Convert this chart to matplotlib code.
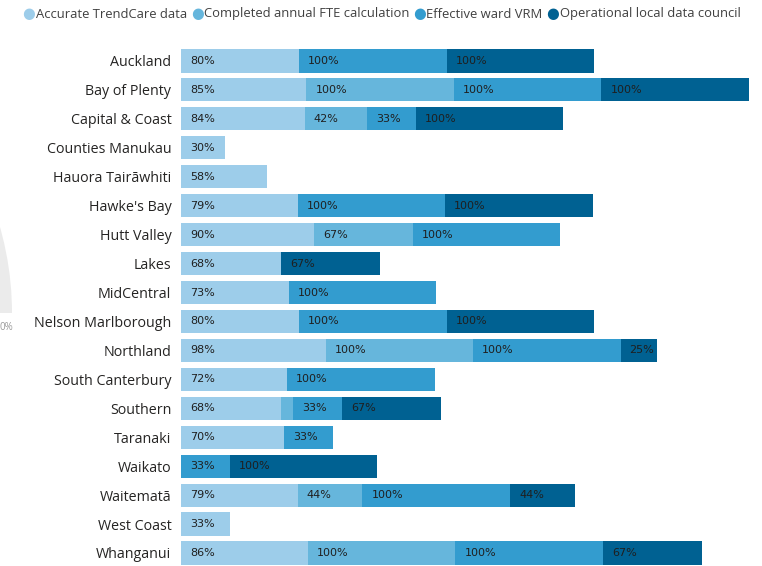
import matplotlib
matplotlib.use("Agg")
import matplotlib.pyplot as plt
import matplotlib.transforms as mtransforms
from matplotlib.patches import Wedge
import numpy as np

regions = ["Auckland", "Bay of Plenty", "Capital & Coast", "Counties Manukau",
           "Hauora Tairāwhiti", "Hawke's Bay", "Hutt Valley", "Lakes", "MidCentral",
           "Nelson Marlborough", "Northland", "South Canterbury", "Southern",
           "Taranaki", "Waikato", "Waitematā", "West Coast", "Whanganui"]

accurate    = [80, 85, 84, 30, 58, 79, 90, 68, 73, 80, 98, 72, 68, 70, 0, 79, 33, 86]
completed   = [0, 100, 42, 0, 0, 0, 67, 0, 0, 0, 100, 0, 8, 0, 0, 44, 0, 100]
effective   = [100, 100, 33, 0, 0, 100, 100, 0, 100, 100, 100, 100, 33, 33, 33, 100, 0, 100]
operational = [100, 100, 100, 0, 0, 100, 0, 67, 0, 100, 25, 0, 67, 0, 100, 44, 0, 67]

series = ["Accurate TrendCare data", "Completed annual FTE calculation",
          "Effective ward VRM", "Operational local data council"]
colors = ["#9dcdea", "#66b6dc", "#339ccf", "#006192"]

W, H = 762, 566
fig = plt.figure(figsize=(W / 100, H / 100), dpi=100)

# axes placed in pixels: bars start at x=181, first row centre y=61, row step ~28.94
row = 28.94
left = 181
ax = fig.add_axes([left / W, 0, (W - left) / W, 1 - 46.5 / H])
ax.set_facecolor("none")
ax.set_xlim(0, (W - left) / 1.475)
ax.set_ylim((H - 61) / row, -0.5)

y = np.arange(len(regions))
base = np.zeros(len(regions))
for vals, col in zip([accurate, completed, effective, operational], colors):
    vals = np.array(vals, dtype=float)
    ax.barh(y, vals, left=base, height=0.8, color=col, linewidth=0)
    for yi, b, v in zip(y, base, vals):
        if v >= 15:
            ax.annotate(f"{int(v)}%", (b, yi), xytext=(6.5, 0), textcoords="offset points",
                        ha="left", va="center", fontsize=8, color="#1f1f1f",
                        family="DejaVu Sans")
    base += vals

ax.set_yticks(y)
ax.set_yticklabels(regions, fontsize=10.3, family="Open Sans", color="#252423")
ax.tick_params(axis="y", length=0, pad=7)
ax.set_xticks([])
for s in ax.spines.values():
    s.set_visible(False)

# legend along the top, laid out item after item
fig.canvas.draw()
renderer = fig.canvas.get_renderer()
lx = 29
for name, col in zip(series, colors):
    fig.text(lx / W, 1 - 14 / H, "●", color=col, fontsize=10.5, ha="center", va="center",
             family="DejaVu Sans")
    t = fig.text((lx + 7) / W, 1 - 14 / H, name, color="#404040", fontsize=9.4,
                 ha="left", va="center", family="Open Sans")
    bb = t.get_window_extent(renderer)
    lx = bb.x1 + 10

# remnant of a neighbouring gauge visual at the left edge
ident = mtransforms.IdentityTransform()
fig.add_artist(Wedge((-302, H - 313), 314, 0, 180, width=120, facecolor="#ebebeb",
                     edgecolor="none", transform=ident))
fig.text(0, 1 - 328 / H, "0%", ha="left", va="center", fontsize=7,
         color="#999999", family="Open Sans")

fig.savefig("out.png", dpi=100)
